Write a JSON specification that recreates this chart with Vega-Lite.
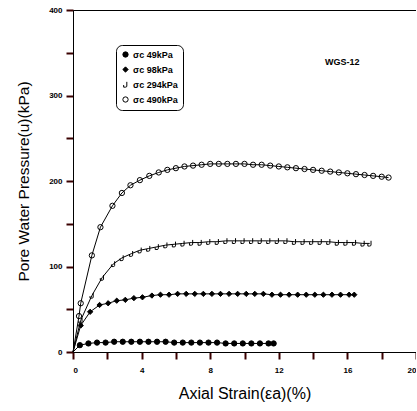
{
  "$schema": "https://vega.github.io/schema/vega-lite/v6.json",
  "autosize": "none",
  "width": 343,
  "height": 342,
  "padding": {"left": 73, "top": 10, "right": 0, "bottom": 59},
  "background": "white",
  "config": {
    "view": {"stroke": "black", "strokeWidth": 1},
    "font": "Liberation Sans",
    "legend": {
      "orient": "none",
      "legendX": 43,
      "legendY": 35,
      "strokeColor": "black",
      "cornerRadius": 6,
      "padding": 5,
      "labelFont": "Liberation Sans",
      "labelFontWeight": "bold",
      "labelFontSize": 9,
      "labelColor": "black",
      "symbolStrokeWidth": 1,
      "symbolSize": 28,
      "rowPadding": 4,
      "labelOffset": 3
    }
  },
  "datasets": {
    "pts": [
      {"s": "σc 49kPa", "x": 0, "y": 0},
      {"s": "σc 49kPa", "x": 0.4, "y": 8},
      {"s": "σc 49kPa", "x": 0.9, "y": 10},
      {"s": "σc 49kPa", "x": 1.4, "y": 11},
      {"s": "σc 49kPa", "x": 1.9, "y": 11},
      {"s": "σc 49kPa", "x": 2.4, "y": 12},
      {"s": "σc 49kPa", "x": 2.9, "y": 12},
      {"s": "σc 49kPa", "x": 3.4, "y": 12},
      {"s": "σc 49kPa", "x": 3.9, "y": 12},
      {"s": "σc 49kPa", "x": 4.4, "y": 12},
      {"s": "σc 49kPa", "x": 4.9, "y": 12},
      {"s": "σc 49kPa", "x": 5.4, "y": 12},
      {"s": "σc 49kPa", "x": 5.9, "y": 11},
      {"s": "σc 49kPa", "x": 6.4, "y": 11},
      {"s": "σc 49kPa", "x": 6.9, "y": 11},
      {"s": "σc 49kPa", "x": 7.4, "y": 11},
      {"s": "σc 49kPa", "x": 7.9, "y": 11},
      {"s": "σc 49kPa", "x": 8.4, "y": 11},
      {"s": "σc 49kPa", "x": 8.9, "y": 10},
      {"s": "σc 49kPa", "x": 9.4, "y": 10},
      {"s": "σc 49kPa", "x": 9.9, "y": 10},
      {"s": "σc 49kPa", "x": 10.4, "y": 10},
      {"s": "σc 49kPa", "x": 10.9, "y": 10},
      {"s": "σc 49kPa", "x": 11.4, "y": 10},
      {"s": "σc 49kPa", "x": 11.7, "y": 10},

      {"s": "σc 98kPa", "x": 0, "y": 0},
      {"s": "σc 98kPa", "x": 0.45, "y": 31},
      {"s": "σc 98kPa", "x": 1.0, "y": 47},
      {"s": "σc 98kPa", "x": 1.55, "y": 55},
      {"s": "σc 98kPa", "x": 2.05, "y": 57},
      {"s": "σc 98kPa", "x": 2.55, "y": 60},
      {"s": "σc 98kPa", "x": 3.05, "y": 61},
      {"s": "σc 98kPa", "x": 3.55, "y": 63},
      {"s": "σc 98kPa", "x": 4.05, "y": 64},
      {"s": "σc 98kPa", "x": 4.6, "y": 66},
      {"s": "σc 98kPa", "x": 5.1, "y": 67},
      {"s": "σc 98kPa", "x": 5.6, "y": 67},
      {"s": "σc 98kPa", "x": 6.1, "y": 68},
      {"s": "σc 98kPa", "x": 6.6, "y": 68},
      {"s": "σc 98kPa", "x": 7.1, "y": 68},
      {"s": "σc 98kPa", "x": 7.6, "y": 68},
      {"s": "σc 98kPa", "x": 8.1, "y": 68},
      {"s": "σc 98kPa", "x": 8.6, "y": 68},
      {"s": "σc 98kPa", "x": 9.1, "y": 68},
      {"s": "σc 98kPa", "x": 9.6, "y": 68},
      {"s": "σc 98kPa", "x": 10.1, "y": 68},
      {"s": "σc 98kPa", "x": 10.6, "y": 68},
      {"s": "σc 98kPa", "x": 11.1, "y": 68},
      {"s": "σc 98kPa", "x": 11.6, "y": 67},
      {"s": "σc 98kPa", "x": 12.1, "y": 67},
      {"s": "σc 98kPa", "x": 12.6, "y": 67},
      {"s": "σc 98kPa", "x": 13.1, "y": 67},
      {"s": "σc 98kPa", "x": 13.6, "y": 67},
      {"s": "σc 98kPa", "x": 14.1, "y": 67},
      {"s": "σc 98kPa", "x": 14.6, "y": 67},
      {"s": "σc 98kPa", "x": 15.1, "y": 67},
      {"s": "σc 98kPa", "x": 15.6, "y": 67},
      {"s": "σc 98kPa", "x": 16.1, "y": 67},
      {"s": "σc 98kPa", "x": 16.4, "y": 67},

      {"s": "σc 294kPa", "x": 0, "y": 0},
      {"s": "σc 294kPa", "x": 0.45, "y": 37},
      {"s": "σc 294kPa", "x": 1.1, "y": 66},
      {"s": "σc 294kPa", "x": 1.7, "y": 87},
      {"s": "σc 294kPa", "x": 2.35, "y": 103},
      {"s": "σc 294kPa", "x": 2.85, "y": 110},
      {"s": "σc 294kPa", "x": 3.4, "y": 115},
      {"s": "σc 294kPa", "x": 3.9, "y": 119},
      {"s": "σc 294kPa", "x": 4.4, "y": 121},
      {"s": "σc 294kPa", "x": 4.9, "y": 123},
      {"s": "σc 294kPa", "x": 5.4, "y": 125},
      {"s": "σc 294kPa", "x": 5.9, "y": 126},
      {"s": "σc 294kPa", "x": 6.4, "y": 127},
      {"s": "σc 294kPa", "x": 6.9, "y": 128},
      {"s": "σc 294kPa", "x": 7.4, "y": 128},
      {"s": "σc 294kPa", "x": 7.9, "y": 129},
      {"s": "σc 294kPa", "x": 8.4, "y": 129},
      {"s": "σc 294kPa", "x": 8.9, "y": 130},
      {"s": "σc 294kPa", "x": 9.4, "y": 130},
      {"s": "σc 294kPa", "x": 9.9, "y": 130},
      {"s": "σc 294kPa", "x": 10.4, "y": 130},
      {"s": "σc 294kPa", "x": 10.9, "y": 130},
      {"s": "σc 294kPa", "x": 11.4, "y": 130},
      {"s": "σc 294kPa", "x": 11.9, "y": 130},
      {"s": "σc 294kPa", "x": 12.4, "y": 130},
      {"s": "σc 294kPa", "x": 12.9, "y": 129},
      {"s": "σc 294kPa", "x": 13.4, "y": 129},
      {"s": "σc 294kPa", "x": 13.9, "y": 129},
      {"s": "σc 294kPa", "x": 14.4, "y": 129},
      {"s": "σc 294kPa", "x": 14.9, "y": 129},
      {"s": "σc 294kPa", "x": 15.4, "y": 128},
      {"s": "σc 294kPa", "x": 15.9, "y": 128},
      {"s": "σc 294kPa", "x": 16.4, "y": 128},
      {"s": "σc 294kPa", "x": 16.9, "y": 127},
      {"s": "σc 294kPa", "x": 17.3, "y": 127},

      {"s": "σc 490kPa", "x": 0, "y": 0},
      {"s": "σc 490kPa", "x": 0.35, "y": 42},
      {"s": "σc 490kPa", "x": 0.45, "y": 57},
      {"s": "σc 490kPa", "x": 1.1, "y": 113},
      {"s": "σc 490kPa", "x": 1.6, "y": 146},
      {"s": "σc 490kPa", "x": 2.3, "y": 171},
      {"s": "σc 490kPa", "x": 2.85, "y": 186},
      {"s": "σc 490kPa", "x": 3.35, "y": 195},
      {"s": "σc 490kPa", "x": 3.9, "y": 201},
      {"s": "σc 490kPa", "x": 4.45, "y": 206},
      {"s": "σc 490kPa", "x": 5.0, "y": 210},
      {"s": "σc 490kPa", "x": 5.5, "y": 213},
      {"s": "σc 490kPa", "x": 6.0, "y": 215},
      {"s": "σc 490kPa", "x": 6.5, "y": 217},
      {"s": "σc 490kPa", "x": 7.0, "y": 218},
      {"s": "σc 490kPa", "x": 7.5, "y": 219},
      {"s": "σc 490kPa", "x": 8.0, "y": 220},
      {"s": "σc 490kPa", "x": 8.5, "y": 220},
      {"s": "σc 490kPa", "x": 9.0, "y": 220},
      {"s": "σc 490kPa", "x": 9.5, "y": 220},
      {"s": "σc 490kPa", "x": 10.0, "y": 220},
      {"s": "σc 490kPa", "x": 10.5, "y": 219},
      {"s": "σc 490kPa", "x": 11.0, "y": 219},
      {"s": "σc 490kPa", "x": 11.5, "y": 218},
      {"s": "σc 490kPa", "x": 12.0, "y": 217},
      {"s": "σc 490kPa", "x": 12.5, "y": 216},
      {"s": "σc 490kPa", "x": 13.0, "y": 215},
      {"s": "σc 490kPa", "x": 13.5, "y": 214},
      {"s": "σc 490kPa", "x": 14.0, "y": 213},
      {"s": "σc 490kPa", "x": 14.5, "y": 212},
      {"s": "σc 490kPa", "x": 15.0, "y": 211},
      {"s": "σc 490kPa", "x": 15.5, "y": 210},
      {"s": "σc 490kPa", "x": 16.0, "y": 209},
      {"s": "σc 490kPa", "x": 16.5, "y": 208},
      {"s": "σc 490kPa", "x": 17.0, "y": 207},
      {"s": "σc 490kPa", "x": 17.5, "y": 206},
      {"s": "σc 490kPa", "x": 18.0, "y": 205},
      {"s": "σc 490kPa", "x": 18.4, "y": 204}
    ],
    "note": [{"x": 15.7, "y": 339, "t": "WGS-12"}]
  },
  "layer": [
    {
      "data": {"name": "pts"},
      "mark": {"type": "line", "color": "black", "strokeWidth": 1},
      "encoding": {
        "x": {
          "field": "x", "type": "quantitative",
          "scale": {"domain": [0, 20], "nice": false},
          "axis": {
            "tickCount": 10,
            "labelExpr": "datum.value % 4 === 0 ? datum.label : ''",
            "grid": false,
            "domainColor": "black",
            "ticks": true,
            "tickColor": "#3a0000",
            "tickWidth": 2,
            "tickSize": 7,
            "labelFont": "Liberation Sans",
            "labelFontWeight": "bold",
            "labelFontSize": 8,
            "labelColor": "black",
            "labelPadding": 7,
            "title": "Axial Strain(εa)(%)",
            "titleFont": "Liberation Sans",
            "titleFontWeight": "normal",
            "titleFontSize": 16,
            "titleColor": "black",
            "titlePadding": 11
          }
        },
        "y": {
          "field": "y", "type": "quantitative",
          "scale": {"domain": [0, 400], "nice": false},
          "axis": {
            "tickCount": 8,
            "labelExpr": "datum.value % 100 === 0 ? datum.label : ''",
            "grid": false,
            "domainColor": "black",
            "ticks": true,
            "tickColor": "#3a0000",
            "tickWidth": 2,
            "tickSize": 7,
            "labelFont": "Liberation Sans",
            "labelFontWeight": "bold",
            "labelFontSize": 8,
            "labelColor": "black",
            "labelPadding": 4,
            "title": "Pore Water Pressure(u)(kPa)",
            "titleFont": "Liberation Sans",
            "titleFontWeight": "normal",
            "titleFontSize": 15.5,
            "titleColor": "black",
            "titlePadding": 17
          }
        },
        "detail": {"field": "s"},
        "order": {"field": "x"}
      }
    },
    {
      "data": {"name": "pts"},
      "transform": [{"filter": "datum.x > 0"}],
      "mark": {"type": "point", "strokeWidth": 1, "opacity": 1, "size": 28},
      "encoding": {
        "x": {"field": "x", "type": "quantitative"},
        "y": {"field": "y", "type": "quantitative"},
        "shape": {
          "field": "s", "type": "nominal",
          "scale": {
            "domain": ["σc 49kPa", "σc 98kPa", "σc 294kPa", "σc 490kPa"],
            "range": ["circle", "diamond", "M0.5,-1V0.6Q0.5,1 0,1H-0.7V0.2", "circle"]
          },
          "legend": {"title": null}
        },
        "fill": {
          "field": "s", "type": "nominal",
          "scale": {
            "domain": ["σc 49kPa", "σc 98kPa", "σc 294kPa", "σc 490kPa"],
            "range": ["black", "black", "transparent", "transparent"]
          },
          "legend": {"title": null}
        },
        "stroke": {
          "field": "s", "type": "nominal",
          "scale": {
            "domain": ["σc 49kPa", "σc 98kPa", "σc 294kPa", "σc 490kPa"],
            "range": ["black", "black", "black", "black"]
          },
          "legend": {"title": null}
        }
      }
    },
    {
      "data": {"name": "note"},
      "mark": {"type": "text", "font": "Liberation Sans", "fontWeight": "bold", "fontSize": 9, "color": "black"},
      "encoding": {
        "x": {"field": "x", "type": "quantitative"},
        "y": {"field": "y", "type": "quantitative"},
        "text": {"field": "t"}
      }
    }
  ]
}
